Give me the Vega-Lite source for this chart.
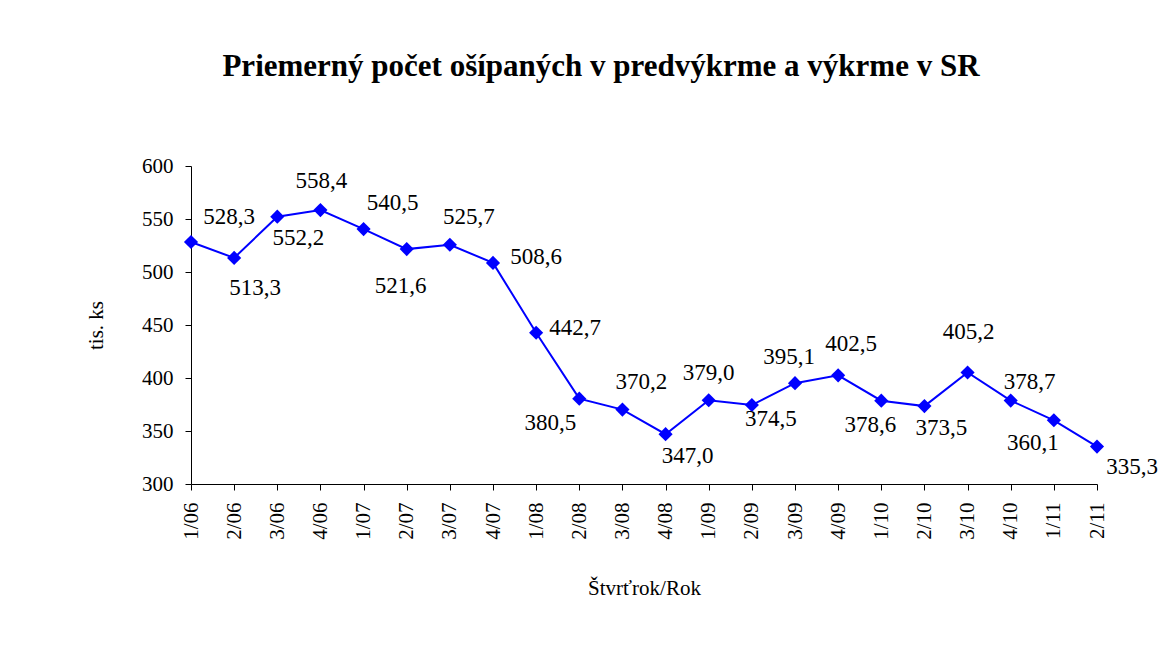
{
  "$schema": "https://vega.github.io/schema/vega-lite/v6.json",
  "autosize": "none",
  "width": 906,
  "height": 318,
  "padding": {"left": 191, "top": 166, "right": 76, "bottom": 182},
  "background": "white",
  "title": {
    "text": "Priemerný počet ošípaných v predvýkrme a výkrme v SR",
    "font": "Liberation Serif",
    "fontSize": 31,
    "fontWeight": "bold",
    "color": "black",
    "anchor": "middle",
    "frame": "group",
    "baseline": "alphabetic",
    "offset": 48,
    "dx": -43
  },
  "data": {
    "values": [
      {"q": "1/06", "v": 528.3, "lab": "528,3"},
      {"q": "2/06", "v": 513.3, "lab": "513,3"},
      {"q": "3/06", "v": 552.2, "lab": "552,2"},
      {"q": "4/06", "v": 558.4, "lab": "558,4"},
      {"q": "1/07", "v": 540.5, "lab": "540,5"},
      {"q": "2/07", "v": 521.6, "lab": "521,6"},
      {"q": "3/07", "v": 525.7, "lab": "525,7"},
      {"q": "4/07", "v": 508.6, "lab": "508,6"},
      {"q": "1/08", "v": 442.7, "lab": "442,7"},
      {"q": "2/08", "v": 380.5, "lab": "380,5"},
      {"q": "3/08", "v": 370.2, "lab": "370,2"},
      {"q": "4/08", "v": 347.0, "lab": "347,0"},
      {"q": "1/09", "v": 379.0, "lab": "379,0"},
      {"q": "2/09", "v": 374.5, "lab": "374,5"},
      {"q": "3/09", "v": 395.1, "lab": "395,1"},
      {"q": "4/09", "v": 402.5, "lab": "402,5"},
      {"q": "1/10", "v": 378.6, "lab": "378,6"},
      {"q": "2/10", "v": 373.5, "lab": "373,5"},
      {"q": "3/10", "v": 405.2, "lab": "405,2"},
      {"q": "4/10", "v": 378.7, "lab": "378,7"},
      {"q": "1/11", "v": 360.1, "lab": "360,1"},
      {"q": "2/11", "v": 335.3, "lab": "335,3"}
    ]
  },
  "encoding": {
    "x": {
      "field": "q", "type": "ordinal", "sort": null,
      "scale": {"type": "point", "padding": 0},
      "axis": {
        "title": "Štvrťrok/Rok",
        "labelAngle": -90,
        "labelAlign": "right",
        "labelBaseline": "middle",
        "labelPadding": 12,
        "titlePadding": 38
      }
    },
    "y": {
      "field": "v", "type": "quantitative",
      "scale": {"domain": [300, 600], "nice": false, "zero": false},
      "axis": {
        "title": "tis. ks",
        "values": [300, 350, 400, 450, 500, 550, 600],
        "grid": false,
        "labelPadding": 12,
        "titlePadding": 35
      }
    }
  },
  "layer": [
    {
      "mark": {"type": "line", "color": "#0000FF", "strokeWidth": 2,
        "point": {"shape": "diamond", "size": 200, "filled": true, "color": "#0000FF", "opacity": 1}}
    },
    {"transform": [{"filter": "datum.q === '1/06'"}], "mark": {"type": "text", "dx": 38, "dy": -25}, "encoding": {"text": {"field": "lab"}}},
    {"transform": [{"filter": "datum.q === '2/06'"}], "mark": {"type": "text", "dx": 21, "dy": 30}, "encoding": {"text": {"field": "lab"}}},
    {"transform": [{"filter": "datum.q === '3/06'"}], "mark": {"type": "text", "dx": 21, "dy": 21}, "encoding": {"text": {"field": "lab"}}},
    {"transform": [{"filter": "datum.q === '4/06'"}], "mark": {"type": "text", "dx": 1, "dy": -29}, "encoding": {"text": {"field": "lab"}}},
    {"transform": [{"filter": "datum.q === '1/07'"}], "mark": {"type": "text", "dx": 29, "dy": -26}, "encoding": {"text": {"field": "lab"}}},
    {"transform": [{"filter": "datum.q === '2/07'"}], "mark": {"type": "text", "dx": -6, "dy": 37}, "encoding": {"text": {"field": "lab"}}},
    {"transform": [{"filter": "datum.q === '3/07'"}], "mark": {"type": "text", "dx": 19, "dy": -28}, "encoding": {"text": {"field": "lab"}}},
    {"transform": [{"filter": "datum.q === '4/07'"}], "mark": {"type": "text", "dx": 43, "dy": -6}, "encoding": {"text": {"field": "lab"}}},
    {"transform": [{"filter": "datum.q === '1/08'"}], "mark": {"type": "text", "dx": 39, "dy": -5}, "encoding": {"text": {"field": "lab"}}},
    {"transform": [{"filter": "datum.q === '2/08'"}], "mark": {"type": "text", "dx": -29, "dy": 24}, "encoding": {"text": {"field": "lab"}}},
    {"transform": [{"filter": "datum.q === '3/08'"}], "mark": {"type": "text", "dx": 19, "dy": -28}, "encoding": {"text": {"field": "lab"}}},
    {"transform": [{"filter": "datum.q === '4/08'"}], "mark": {"type": "text", "dx": 22, "dy": 22}, "encoding": {"text": {"field": "lab"}}},
    {"transform": [{"filter": "datum.q === '1/09'"}], "mark": {"type": "text", "dx": 0, "dy": -27}, "encoding": {"text": {"field": "lab"}}},
    {"transform": [{"filter": "datum.q === '2/09'"}], "mark": {"type": "text", "dx": 19, "dy": 14}, "encoding": {"text": {"field": "lab"}}},
    {"transform": [{"filter": "datum.q === '3/09'"}], "mark": {"type": "text", "dx": -6, "dy": -26}, "encoding": {"text": {"field": "lab"}}},
    {"transform": [{"filter": "datum.q === '4/09'"}], "mark": {"type": "text", "dx": 13, "dy": -31}, "encoding": {"text": {"field": "lab"}}},
    {"transform": [{"filter": "datum.q === '1/10'"}], "mark": {"type": "text", "dx": -11, "dy": 24}, "encoding": {"text": {"field": "lab"}}},
    {"transform": [{"filter": "datum.q === '2/10'"}], "mark": {"type": "text", "dx": 17, "dy": 22}, "encoding": {"text": {"field": "lab"}}},
    {"transform": [{"filter": "datum.q === '3/10'"}], "mark": {"type": "text", "dx": 1, "dy": -40}, "encoding": {"text": {"field": "lab"}}},
    {"transform": [{"filter": "datum.q === '4/10'"}], "mark": {"type": "text", "dx": 19, "dy": -19}, "encoding": {"text": {"field": "lab"}}},
    {"transform": [{"filter": "datum.q === '1/11'"}], "mark": {"type": "text", "dx": -21, "dy": 23}, "encoding": {"text": {"field": "lab"}}},
    {"transform": [{"filter": "datum.q === '2/11'"}], "mark": {"type": "text", "dx": 35, "dy": 20}, "encoding": {"text": {"field": "lab"}}}
  ],
  "config": {
    "font": "Liberation Serif",
    "view": {"stroke": null},
    "text": {"font": "Liberation Serif", "fontSize": 23, "color": "black", "align": "center", "baseline": "middle"},
    "axis": {
      "domainColor": "black",
      "domainWidth": 1,
      "tickColor": "black",
      "tickWidth": 1,
      "tickSize": 6,
      "labelFont": "Liberation Serif",
      "labelFontSize": 21,
      "labelColor": "black",
      "titleFont": "Liberation Serif",
      "titleFontSize": 21,
      "titleFontWeight": "normal",
      "titleColor": "black"
    }
  }
}
